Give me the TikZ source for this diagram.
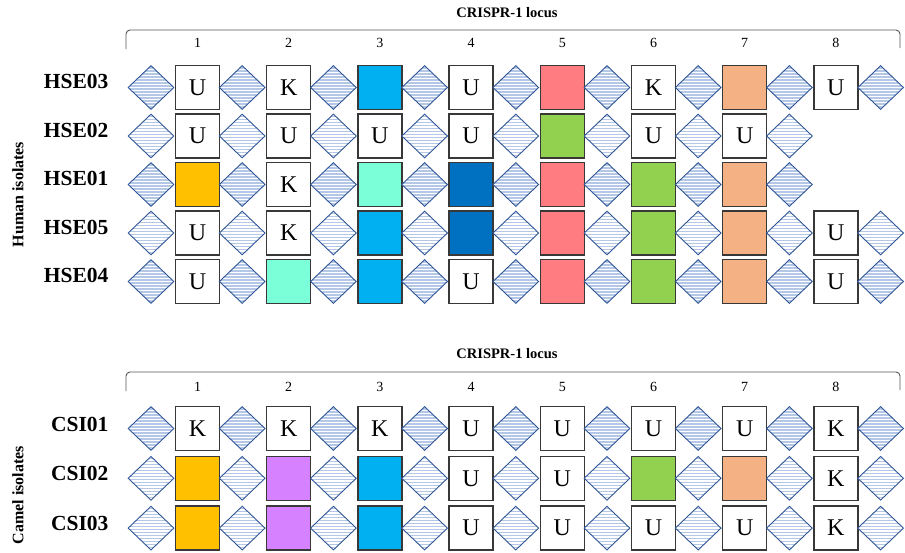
\documentclass[tikz,border=0pt]{standalone}
\usepackage{fontspec}
\setmainfont{Liberation Serif}
\usetikzlibrary{shapes.geometric}
\definecolor{dblue}{HTML}{2F5597}
\definecolor{stripec}{HTML}{B4C7E7}
\definecolor{sqline}{HTML}{383838}
\definecolor{brk}{HTML}{555555}
\colorlet{U}{white}
\colorlet{K}{white}
\definecolor{cy}{HTML}{00B0F0}
\definecolor{sa}{HTML}{FF7C80}
\definecolor{pe}{HTML}{F4B183}
\definecolor{gr}{HTML}{92D050}
\definecolor{go}{HTML}{FFC000}
\definecolor{db}{HTML}{0070C0}
\definecolor{mi}{HTML}{7AFFD8}
\definecolor{pu}{HTML}{D681FF}
\def\tU{U}
\def\tK{K}
\tikzset{
  spacer/.style={diamond, draw=dblue, line width=0.9pt, fill=white,
    minimum width=46pt, minimum height=44pt, inner sep=0pt,
    path picture={\foreach \k in {-8,...,8}
      \draw[stripec, line width=1.2pt]
        ([yshift=\k*3pt+1.5pt]path picture bounding box.west) --
        ([yshift=\k*3pt+1.5pt]path picture bounding box.east);}},
  sq/.style={draw=sqline, line width=1.3pt, minimum size=44pt, inner sep=0pt,
    font=\fontsize{24}{24}\selectfont},
  rowlab/.style={anchor=base east, font=\bfseries\fontsize{21.5}{21.5}\selectfont},
  grplab/.style={rotate=90, font=\bfseries\fontsize{16}{16}\selectfont},
  title/.style={font=\bfseries\fontsize{14.5}{14.5}\selectfont},
  num/.style={font=\fontsize{14}{14}\selectfont},
  bracket/.style={draw=brk, line width=0.9pt, rounded corners=4pt}
}
\newcommand\crisprrow[4]{%
  \foreach \c [count=\i] in {#4}{
    \node[spacer] (#1d\i) at ({151+91.2*(\i-1)},#2) {};
    \node[sq, fill=\c] (#1s\i) at ({197.5+91.2*(\i-1)},#2) {\csname t\c\endcsname};
  }
  \pgfmathtruncatemacro\nn{#3+1}
  \node[spacer] (#1d\nn) at ({151+91.2*#3},#2) {};
}
\begin{document}
\begin{tikzpicture}[x=1pt,y=-1pt]
\useasboundingbox (0,0) rectangle (905,552);
% ---------- Human ----------
\node[title] (t1) at (507,13) {CRISPR-1 locus};
\coordinate (b1l) at (126,49);
\coordinate (b1r) at (900,48);
\draw[bracket] (b1l) -- (126,30) -- (900,30) -- (b1r);
\foreach \i in {1,...,8}
  \node[num] (hn\i) at ({197.5+91.2*(\i-1)},43) {\i};
\crisprrow{hseA}{87.5}{8}{U,K,cy,U,sa,K,pe,U}
\crisprrow{hseB}{136}{7}{U,U,U,U,gr,U,U}
\crisprrow{hseC}{184.5}{7}{go,K,mi,db,sa,gr,pe}
\crisprrow{hseD}{233}{8}{U,K,cy,db,sa,gr,pe,U}
\crisprrow{hseE}{281.5}{8}{U,mi,cy,U,sa,gr,pe,U}
\node[rowlab] (l1) at (112,88.5) {HSE03};
\node[rowlab] (l2) at (112,137) {HSE02};
\node[rowlab] (l3) at (112,185.5) {HSE01};
\node[rowlab] (l4) at (112,234) {HSE05};
\node[rowlab] (l5) at (112,282.5) {HSE04};
\node[grplab] (g1) at (18,194.5) {Human isolates};
% ---------- Camel ----------
\node[title] (t2) at (507,354) {CRISPR-1 locus};
\coordinate (b2l) at (126,391);
\coordinate (b2r) at (900,390);
\draw[bracket] (b2l) -- (126,372) -- (900,372) -- (b2r);
\foreach \i in {1,...,8}
  \node[num] (cn\i) at ({197.5+91.2*(\i-1)},386.5) {\i};
\crisprrow{csiA}{428.5}{8}{K,K,K,U,U,U,U,K}
\crisprrow{csiB}{478.3}{8}{go,pu,cy,U,U,gr,pe,K}
\crisprrow{csiC}{528.1}{8}{go,pu,cy,U,U,U,U,K}
\node[rowlab] (l6) at (112,431) {CSI01};
\node[rowlab] (l7) at (112,480.8) {CSI02};
\node[rowlab] (l8) at (112,530.6) {CSI03};
\node[grplab] (g2) at (18,495) {Camel isolates};
\end{tikzpicture}
\end{document}
